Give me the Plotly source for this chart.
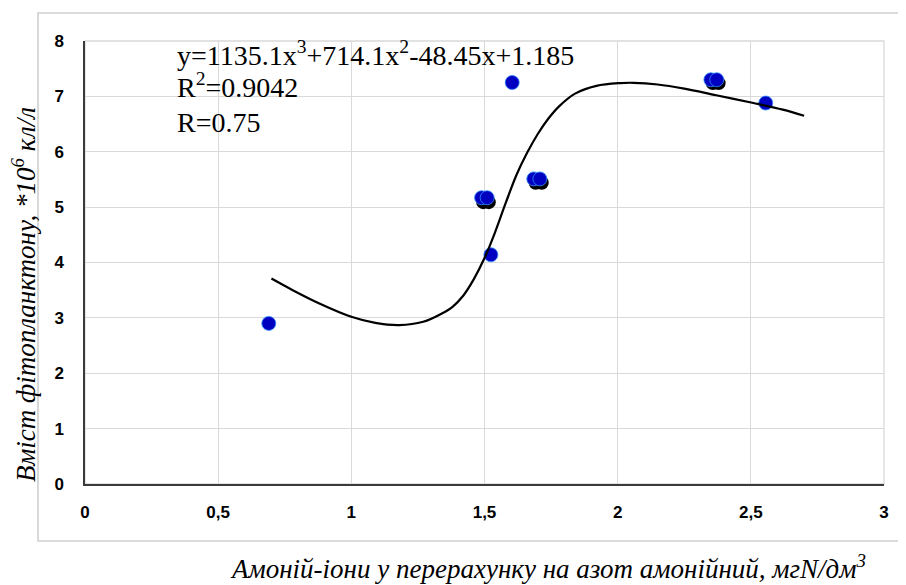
import plotly.graph_objects as go

# --- data ---
blue_x = [0.690, 1.489, 1.510, 1.524, 1.604, 1.685, 1.708, 2.350, 2.372, 2.556]
blue_y = [2.90, 5.17, 5.17, 4.14, 7.25, 5.51, 5.51, 7.30, 7.30, 6.88]

black_x = [1.495, 1.516, 1.692, 1.715, 2.357, 2.379]
black_y = [5.09, 5.09, 5.44, 5.44, 7.24, 7.24]

trend_x = [0.70, 0.78, 0.88, 1.00, 1.09, 1.18, 1.27, 1.34, 1.38, 1.42, 1.46, 1.50,
           1.54, 1.58, 1.62, 1.66, 1.70, 1.74, 1.78, 1.84, 1.92, 2.01, 2.06, 2.15,
           2.25, 2.37, 2.51, 2.62, 2.70]
trend_y = [3.71, 3.50, 3.26, 3.02, 2.91, 2.87, 2.93, 3.08, 3.20, 3.40, 3.70, 4.08,
           4.55, 5.08, 5.58, 5.98, 6.32, 6.60, 6.82, 7.05, 7.19, 7.24, 7.245, 7.215,
           7.14, 7.02, 6.88, 6.76, 6.65]

x_ticks = [0, 0.5, 1, 1.5, 2, 2.5, 3]
x_tick_text = ["0", "0,5", "1", "1,5", "2", "2,5", "3"]
y_ticks = [0, 1, 2, 3, 4, 5, 6, 7, 8]

eq_lines = ["y=1135.1x<sup>3</sup>+714.1x<sup>2</sup>-48.45x+1.185",
            "R<sup>2</sup>=0.9042",
            "R=0.75"]
x_title = "Амоній-іони у перерахунку на азот амонійний, мгN/дм<sup>3</sup>"
y_title = "Вміст фітопланктону, *10<sup>6</sup> кл/л"

fig = go.Figure()

fig.add_trace(go.Scatter(x=black_x, y=black_y, mode="markers",
                         marker=dict(size=14, color="#000000"),
                         showlegend=False, hoverinfo="skip"))
fig.add_trace(go.Scatter(x=blue_x, y=blue_y, mode="markers",
                         marker=dict(size=14, color="#0000C0",
                                     line=dict(width=0.8, color="#2f8cff")),
                         showlegend=False))
fig.add_trace(go.Scatter(x=trend_x, y=trend_y, mode="lines",
                         line=dict(color="#000000", width=2.2, shape="spline", smoothing=1.0),
                         showlegend=False, hoverinfo="skip"))

# page body has an 8px margin: lay the figure out in reference pixels minus 8
OFF = 8
W, H = 906 - OFF, 585 - OFF
L = 85 - OFF
T = 41 - OFF
R = 906 - 884
B = 585 - 484
pw, ph = W - L - R, H - T - B


def px(xp):
    return (xp - OFF - L) / pw


def py(yp):
    return (H - B - (yp - OFF)) / ph


tick_font = dict(family="Liberation Sans, Arial, sans-serif", size=17, color="#000000",
                 weight="bold")

fig.update_xaxes(range=[0, 3], tickvals=x_ticks, ticktext=x_tick_text,
                 showgrid=True, gridcolor="#d9d9d9", gridwidth=1.3,
                 zeroline=False, showline=True, linecolor="#3a3a3a", linewidth=1.5,
                 ticks="", ticklabelstandoff=12, tickfont=tick_font, fixedrange=True)
fig.update_yaxes(range=[0, 8], tickvals=y_ticks,
                 showgrid=True, gridcolor="#d9d9d9", gridwidth=1.3,
                 zeroline=False, showline=True, linecolor="#3a3a3a", linewidth=1.5,
                 ticks="", ticklabelstandoff=16, tickfont=tick_font, fixedrange=True)

shapes = [
    dict(type="rect", xref="paper", yref="paper", x0=0, x1=1, y0=0, y1=1,
         line=dict(color="#d9d9d9", width=1.3), layer="below"),
    dict(type="rect", xref="paper", yref="paper",
         x0=px(38), x1=px(915), y0=py(541), y1=py(13),
         line=dict(color="#cfcfcf", width=1.6), layer="below"),
]

serif = "Liberation Serif, Times New Roman, serif"
annotations = []
eq_base_y = [66, 98, 133]
for txt, by in zip(eq_lines, eq_base_y):
    annotations.append(dict(text=txt, x=px(175), y=py(by + 7), xref="paper", yref="paper",
                            xanchor="left", yanchor="bottom", showarrow=False,
                            font=dict(family=serif, size=28, color="#000000")))

annotations.append(dict(text=x_title, x=px(548), y=py(567), xref="paper", yref="paper",
                        xanchor="center", yanchor="middle", showarrow=False,
                        font=dict(family=serif, size=27, color="#000000", style="italic")))
annotations.append(dict(text=y_title, x=px(24), y=py(295), xref="paper", yref="paper",
                        xanchor="center", yanchor="middle", showarrow=False, textangle=-90,
                        font=dict(family=serif, size=27, color="#000000", style="italic")))

fig.update_layout(width=W, height=H, margin=dict(l=L, r=R, t=T, b=B, pad=0),
                  plot_bgcolor="white", paper_bgcolor="white",
                  shapes=shapes, annotations=annotations, showlegend=False)

fig.write_html("out.html")
